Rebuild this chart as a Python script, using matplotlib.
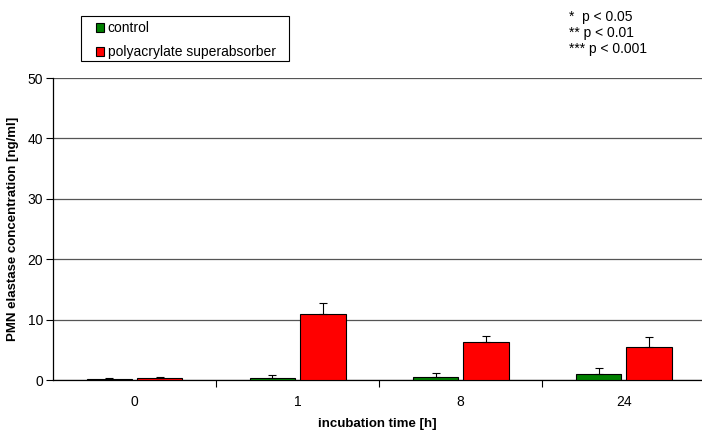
import matplotlib
matplotlib.use("Agg")
import matplotlib.pyplot as plt
import numpy as np
from matplotlib.patches import Patch, Rectangle

plt.rcParams['font.family'] = ['Liberation Sans', 'DejaVu Sans']

categories = ["0", "1", "8", "24"]
control = [0.2, 0.4, 0.45, 1.05]
control_err = [0.1, 0.5, 0.7, 0.95]
poly = [0.3, 10.9, 6.3, 5.5]
poly_err = [0.15, 1.9, 1.0, 1.7]

fig = plt.figure(figsize=(7.02, 4.32), dpi=100)
ax = fig.add_axes([53/702, 1-380/432, 1-53/702, (380-78)/432])

x = np.arange(len(categories))
w = 0.28
off = 0.154
ax.bar(x - off, control, w, color="#008000", edgecolor="black", linewidth=0.8, zorder=3)
ax.bar(x + off, poly, w, color="#ff0000", edgecolor="black", linewidth=0.8, zorder=3)
ax.errorbar(x - off, control, yerr=[np.zeros(len(control)), control_err], fmt="none",
            ecolor="black", elinewidth=0.8, capsize=3, capthick=0.8, zorder=4)
ax.errorbar(x + off, poly, yerr=[np.zeros(len(poly)), poly_err], fmt="none",
            ecolor="black", elinewidth=0.8, capsize=3, capthick=0.8, zorder=4)

ax.set_ylim(0, 50)
ax.set_xlim(-0.5, 3.48)
ax.set_yticks([0, 10, 20, 30, 40, 50])
ax.yaxis.grid(True, color="#555555", linewidth=0.9, zorder=0)
ax.set_axisbelow(True)
ax.set_xticks(x)
ax.set_xticklabels(categories, fontsize=10)
ax.set_xticks([0.5, 1.5, 2.5], minor=True)
ax.tick_params(axis="x", which="major", length=0, pad=11)
ax.tick_params(axis="x", which="minor", length=5, width=0.8, direction="out")
ax.tick_params(axis="y", labelsize=10, length=5, width=0.8, direction="out", pad=2)
for s in ["top", "right"]:
    ax.spines[s].set_visible(False)
ax.spines["left"].set_linewidth(0.9)
ax.spines["bottom"].set_linewidth(0.9)

ax.set_xlabel("incubation time [h]", fontsize=9.5, fontweight="bold", labelpad=6)
ax.set_ylabel("PMN elastase concentration [ng/ml]", fontsize=9.5, fontweight="bold", labelpad=6)

# legend frame
fig.patches.append(Rectangle((81/702, 1-61/432), (289-81)/702, 45/432,
                             transform=fig.transFigure, fill=False,
                             edgecolor="black", linewidth=0.8))
handles = [Patch(facecolor="#008000", edgecolor="black", linewidth=0.8),
           Patch(facecolor="#ff0000", edgecolor="black", linewidth=0.8)]
leg = fig.legend(handles, ["control", "polyacrylate superabsorber"],
                 loc="upper left", bbox_to_anchor=(96/702, 1-21/432),
                 fontsize=10, frameon=False,
                 handlelength=0.6, handleheight=0.6, handletextpad=0.25,
                 borderpad=0, labelspacing=0.72, borderaxespad=0)

fig.text(569/702, 1-17/432, "*  p < 0.05", fontsize=10, va="center")
fig.text(569/702, 1-33/432, "** p < 0.01", fontsize=10, va="center")
fig.text(569/702, 1-49/432, "*** p < 0.001", fontsize=10, va="center")

fig.savefig("out.png", dpi=100)
